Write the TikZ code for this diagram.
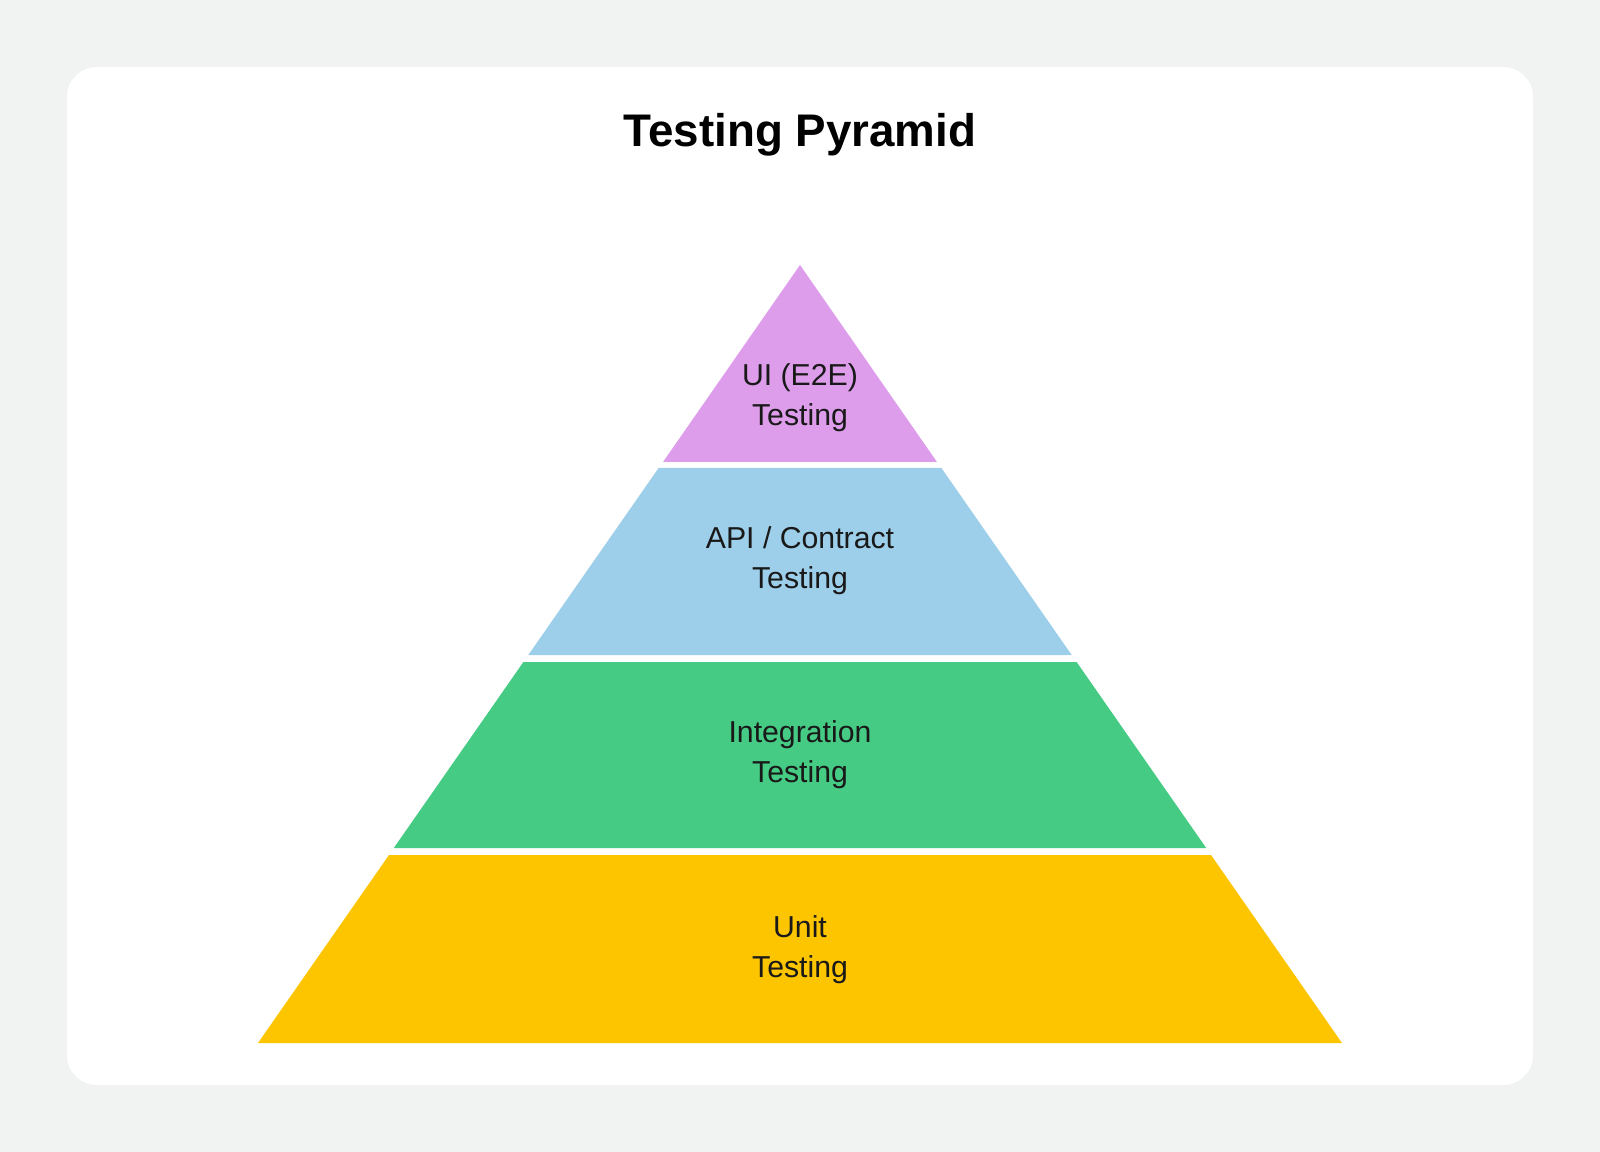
\documentclass[tikz,border=0pt]{standalone}
\usepackage{fontspec}
\setmainfont{Liberation Sans}
\usetikzlibrary{positioning}
\definecolor{uicol}{HTML}{DE9DEB}
\definecolor{apicol}{HTML}{9ECFEA}
\definecolor{intcol}{HTML}{46CB84}
\definecolor{unitcol}{HTML}{FDC500}
\definecolor{bgcol}{HTML}{F1F2F2}
\tikzset{
  layer/.style={draw=none},
  label/.style={align=center,font=\fontsize{8.6}{11.4}\selectfont,text=black!90},
}
\begin{document}
\begin{tikzpicture}[x=0.01cm,y=-0.01cm]
	% background and card
	\fill[bgcol] (0,0) rectangle (1600,1152);
	\fill[white,rounded corners=0.3cm] (67,67) rectangle (1533,1085);
	\useasboundingbox (0,0) rectangle (1600,1152);
	\node[font=\bfseries\fontsize{13}{16}\selectfont] (title) at (800,135) {Testing Pyramid};
	% pyramid layers
	\fill[layer,uicol] (800,265) -- (937,462) -- (663,462) -- cycle;
	\fill[layer,apicol] (658.6,468) -- (941.4,468) -- (1071.7,655) -- (528.3,655) -- cycle;
	\fill[layer,intcol] (523.4,662) -- (1076.6,662) -- (1206.2,848) -- (393.8,848) -- cycle;
	\fill[layer,unitcol] (389,855) -- (1211,855) -- (1342,1043) -- (258,1043) -- cycle;
	% labels
	\node[label] (ui) at (800,398) {UI (E2E)\\Testing};
	\node[label] (api) at (800,561) {API / Contract\\Testing};
	\node[label] (int) at (800,755) {Integration\\Testing};
	\node[label] (unit) at (800,950) {Unit\\Testing};
\end{tikzpicture}
\end{document}
